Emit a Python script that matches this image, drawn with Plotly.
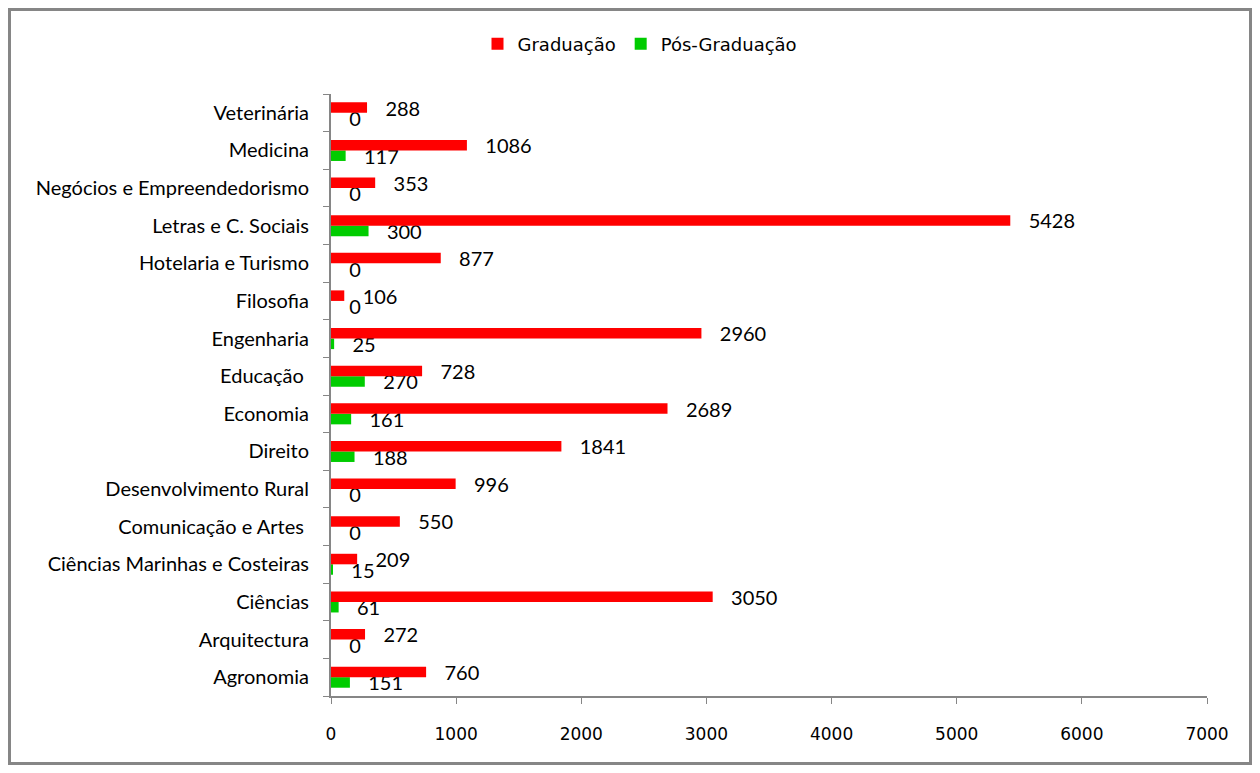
import plotly.graph_objects as go

categories = [
    "Agronomia", "Arquitectura", "Ciências", "Ciências Marinhas e Costeiras",
    "Comunicação e Artes ", "Desenvolvimento Rural", "Direito", "Economia",
    "Educação ", "Engenharia", "Filosofia", "Hotelaria e Turismo",
    "Letras e C. Sociais", "Negócios e Empreendedorismo", "Medicina", "Veterinária",
]
graduacao = [760, 272, 3050, 209, 550, 996, 1841, 2689, 728, 2960, 106, 877, 5428, 353, 1086, 288]
pos_graduacao = [151, 0, 61, 15, 0, 0, 188, 161, 270, 25, 0, 0, 300, 0, 117, 0]
x_ticks = [0, 1000, 2000, 3000, 4000, 5000, 6000, 7000]

# page body has an 8px margin, so the figure is sized/offset accordingly
W, H = 1244, 757
ML, MR, MT, MB = 323, 45, 86, 69
pw, ph = W - ML - MR, H - MT - MB

label_font = dict(family="Lato", size=20, color="black")

fig = go.Figure()
fig.add_trace(go.Bar(
    name="Pós-Graduação", y=categories, x=pos_graduacao, orientation="h",
    marker=dict(color="#00CC00", line=dict(width=0)),
    texttemplate="   %{x}", textposition="outside", textfont=label_font,
    constraintext="none", cliponaxis=False, legendrank=2,
))
fig.add_trace(go.Bar(
    name="Graduação", y=categories, x=graduacao, orientation="h",
    marker=dict(color="#FF0000", line=dict(width=0)),
    texttemplate="   %{x}", textposition="outside", textfont=label_font,
    constraintext="none", cliponaxis=False, legendrank=1,
))

# outer frame (paper coords relative to plot area)
fx0, fx1 = (1.5 - ML) / pw, (W - 1.5 - ML) / pw
fy0 = -(MB - 1.5) / ph
fy1 = 1 + (MT - 1.5) / ph

fig.update_layout(
    width=W, height=H,
    margin=dict(l=ML, r=MR, t=MT, b=MB, pad=0),
    barmode="group", bargap=0.44, bargroupgap=0,
    plot_bgcolor="white", paper_bgcolor="white",
    font=dict(family="Lato", size=17, color="black"),
    legend=dict(orientation="h", x=(632 - ML) / pw, xanchor="center",
                y=1 + (MT - 36) / ph, yanchor="middle",
                font=dict(family="DejaVu Sans", size=18, color="black"), itemwidth=30),
    showlegend=True,
    xaxis=dict(range=[0, 7000], tickvals=x_ticks, ticks="outside", ticklen=6, tickcolor="#868686",
               showline=True, linecolor="#868686", linewidth=2, showgrid=False, zeroline=False,
               tickfont=dict(family="DejaVu Sans", size=17, color="black"), ticklabelstandoff=16),
    yaxis=dict(type="category", categoryorder="array", categoryarray=categories,
               ticks="outside", ticklen=6, tickcolor="#868686", tickson="boundaries",
               showline=True, linecolor="#868686", linewidth=2, showgrid=False,
               tickfont=dict(family="Lato", size=20, color="black"), ticklabelstandoff=16),
    shapes=[dict(type="rect", xref="paper", yref="paper", x0=fx0, x1=fx1, y0=fy0, y1=fy1,
                 line=dict(color="#868686", width=3), layer="below")],
)

fig.write_html("out.html")
